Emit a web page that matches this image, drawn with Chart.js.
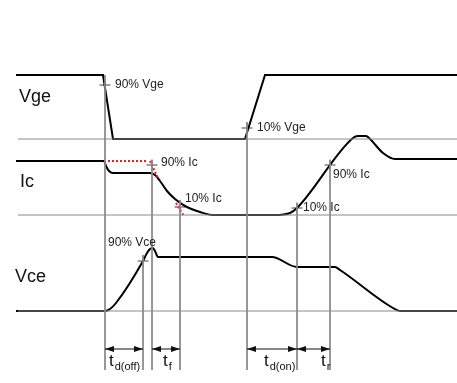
<!DOCTYPE html>
<html>
<head>
  <title>IGBT switching times</title>
  <script src="https://cdn.jsdelivr.net/npm/chart.js"></script>
  <style>
    body { margin: 0; background: #fff; }
    #wrap { width: 457px; height: 383px; }
  </style>
</head>
<body>
  <div id="wrap"><canvas id="myChart"></canvas></div>

  <script>
    // diagram units: x = time, y = level (counted downwards, like the drawing)
    const vgeT = [16, 103, 113, 245, 265, 457];
    const vgeV = [75, 75, 139, 139, 75, 75];

    const icOffT = [16, 104, 106, 109, 113, 150, 155, 160, 167, 175, 185, 200, 213, 280];
    const icOffV = [161, 161, 166, 171, 173, 173, 175, 181, 191, 199, 206, 212, 215, 215];
    const icOnT = [280, 290, 297, 353, 358, 366, 370, 383, 395, 457];
    const icOnV = [215, 213, 208, 138, 136, 136, 139, 153, 159, 159];

    const vceT = [16, 105, 110, 116, 143, 147, 150, 153, 155, 158, 272, 297, 335, 340, 393, 400, 457];
    const vceV = [311, 311, 309, 303, 261, 253, 249, 248, 251, 257, 257, 267, 267, 270, 308, 311, 311];

    const baseV = [139, 215, 311];
    const baseStart = 18;
    const baseEnd = 457;

    const guideT = [105, 143, 152, 180, 247, 297, 330];
    const guideTop = [75, 255, 160, 200, 122, 203, 160];
    const guideBottom = 370;

    const markT = [105, 247, 152, 180, 297, 330, 143];
    const markV = [85, 128, 165, 207, 208, 165, 261];
    const markText = ['90% Vge', '10% Vge', '90% Ic', '10% Ic', '10% Ic', '90% Ic', '90% Vce'];
    const markTextT = [115, 257, 161, 185, 303, 333, 108];
    const markTextV = [85, 128, 163, 199, 208, 175, 243];

    const redT = [[108, 147], [150, 158], [176, 184]];
    const redV = [[161, 161], [161, 178], [203, 216]];

    const signalNames = ['Vge', 'Ic', 'Vce'];
    const signalT = [19, 20, 15];
    const signalV = [97, 182, 277];

    const spanStart = [105, 152, 247, 297];
    const spanEnd = [143, 180, 297, 330];
    const spanV = 349;
    const spanMain = ['t', 't', 't', 't'];
    const spanSub = ['d(off)', 'f', 'd(on)', 'r'];
    const spanTextT = [109, 163, 264, 321];

    const pts = (t, v) => t.map((x, i) => ({ x, y: v[i] }));

    const datasets = [];
    baseV.forEach(v => datasets.push({
      data: [{ x: baseStart, y: v }, { x: baseEnd, y: v }],
      borderColor: '#8a8a8a', borderWidth: 1
    }));
    guideT.forEach((t, i) => datasets.push({
      data: [{ x: t, y: guideTop[i] }, { x: t, y: guideBottom }],
      borderColor: '#8a8a8a', borderWidth: 1
    }));
    redT.forEach((t, i) => datasets.push({
      data: pts(t, redV[i]),
      borderColor: '#ee1c24', borderWidth: 2, borderDash: [2, 2]
    }));
    datasets.push({ data: pts(vgeT, vgeV), borderColor: '#000', borderWidth: 2 });
    datasets.push({ data: pts(icOffT, icOffV), borderColor: '#000', borderWidth: 2, cubicInterpolationMode: 'monotone' });
    datasets.push({ data: pts(icOnT, icOnV), borderColor: '#000', borderWidth: 2, cubicInterpolationMode: 'monotone' });
    datasets.push({ data: pts(vceT, vceV), borderColor: '#000', borderWidth: 2, cubicInterpolationMode: 'monotone' });
    datasets.push({
      data: pts(markT, markV), showLine: false,
      pointStyle: 'cross', pointRadius: 5.5, pointBorderColor: '#444', pointBorderWidth: 1
    });

    const overlay = {
      id: 'overlay',
      afterDatasetsDraw(chart) {
        const { ctx, scales: { x, y } } = chart;
        const font = '"Liberation Sans", Arial, sans-serif';
        ctx.save();
        ctx.textBaseline = 'middle';
        ctx.fillStyle = '#111';
        ctx.font = '18px ' + font;
        signalNames.forEach((n, i) => ctx.fillText(n, x.getPixelForValue(signalT[i]), y.getPixelForValue(signalV[i])));

        ctx.font = '12px ' + font;
        ctx.fillStyle = '#222';
        markText.forEach((s, i) => ctx.fillText(s, x.getPixelForValue(markTextT[i]), y.getPixelForValue(markTextV[i])));

        // dimension arrows between guide lines
        const py = y.getPixelForValue(spanV);
        ctx.strokeStyle = '#111';
        ctx.fillStyle = '#111';
        ctx.lineWidth = 1;
        spanStart.forEach((s, i) => {
          const a = x.getPixelForValue(s), b = x.getPixelForValue(spanEnd[i]);
          ctx.beginPath();
          ctx.moveTo(a, py);
          ctx.lineTo(b, py);
          ctx.stroke();
          [[a, 1], [b, -1]].forEach(([p, d]) => {
            ctx.beginPath();
            ctx.moveTo(p, py);
            ctx.lineTo(p + d * 9, py - 3);
            ctx.lineTo(p + d * 9, py + 3);
            ctx.closePath();
            ctx.fill();
          });
          const tx = x.getPixelForValue(spanTextT[i]);
          ctx.textBaseline = 'alphabetic';
          ctx.font = '17px ' + font;
          ctx.fillText(spanMain[i], tx, py + 17);
          const w = ctx.measureText(spanMain[i]).width;
          ctx.font = '11px ' + font;
          ctx.fillText(spanSub[i], tx + w + 1, py + 21);
        });
        ctx.restore();
      }
    };

    document.addEventListener('DOMContentLoaded', () => {
      const ctx = document.getElementById('myChart').getContext('2d');
      new Chart(ctx, {
        type: 'scatter',
        data: { datasets: datasets.map(d => Object.assign({ showLine: true, pointRadius: 0 }, d)) },
        options: {
          responsive: true,
          maintainAspectRatio: false,
          animation: false,
          layout: { padding: 0, autoPadding: false },
          elements: { point: { radius: 0 } },
          plugins: { legend: { display: false }, tooltip: { enabled: false } },
          scales: {
            x: { type: 'linear', min: 0, max: 457, display: false },
            y: { type: 'linear', min: 0, max: 383, reverse: true, display: false }
          }
        },
        plugins: [overlay]
      });
    });
  </script>
</body>
</html>
